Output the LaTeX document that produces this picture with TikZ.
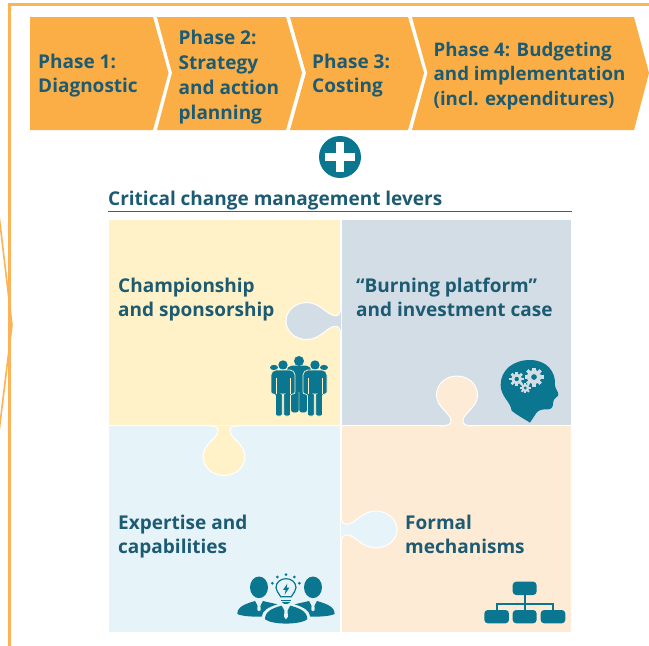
\documentclass[tikz,border=0pt]{standalone}
\usepackage{fontspec}
\setmainfont{Open Sans}
\definecolor{orangeA}{HTML}{FBAE45}
\definecolor{frameC}{HTML}{FDB355}
\definecolor{inkC}{HTML}{1D5B72}
\definecolor{tealC}{HTML}{0B7690}
\definecolor{yelC}{HTML}{FFF2C8}
\definecolor{bluC}{HTML}{D3DDE6}
\definecolor{skyC}{HTML}{E6F4FA}
\definecolor{peaC}{HTML}{FEEBD5}
\tikzset{
  x=1pt,y=-1pt,
  chev/.style={fill=orangeA,draw=none},
  lab/.style={anchor=west,inner sep=0pt,align=left,text=inkC,font=\bfseries\fontsize{19}{24.6}\selectfont},
  labwide/.style={lab,font=\bfseries\fontsize{19}{25.2}\selectfont},
  labnarrow/.style={lab,font=\bfseries\fontsize{18.7}{24.4}\selectfont},
  sep/.style={draw=white,line width=1.1pt},
  frameL/.style={draw=frameC,line width=2.2pt},
  icon/.style={fill=tealC,draw=none},
}
\newcommand{\puzzletab}[6]{%
 \begin{scope}[shift={(#1,#2)},rotate=#3,xscale=#5,yscale=#6]
  \draw[fill=#4,draw=white,line width=1pt]
   (-17,0) .. controls (-9,0) and (-5,2) .. (-6,6)
   .. controls (-7,13) and (-20.5,19) .. (-20.5,31)
   .. controls (-20.5,42) and (-11,50) .. (0,50)
   .. controls (11,50) and (20.5,42) .. (20.5,31)
   .. controls (20.5,19) and (7,13) .. (6,6)
   .. controls (5,2) and (9,0) .. (17,0);
 \end{scope}}
\newcommand{\personfig}[3]{% cx, shoulder top, outline colour
  \fill[tealC,draw=#3,line width=.7pt,rounded corners=2pt]
   (#1-12,#2+24) -- (#1-12,#2+3) -- (#1-9,#2) -- (#1+9,#2) -- (#1+12,#2+3) -- (#1+12,#2+24) -- (#1+7.5,#2+24) -- (#1+7.5,#2+46)
   -- (#1+.7,#2+46) -- (#1+.7,#2+24) -- (#1-.7,#2+24) -- (#1-.7,#2+46) -- (#1-7.5,#2+46) -- (#1-7.5,#2+24) -- cycle;
  \draw[#3,line width=.8pt] (#1-7,#2+8) -- (#1-7,#2+24) (#1+7,#2+8) -- (#1+7,#2+24);
}
\newcommand{\gearicon}[3]{%
  \foreach \a in {0,45,...,315}{\draw[bluC,line width=#3*.36pt] (#1,#2) -- ++(\a:#3*1.0pt);}
  \fill[bluC] (#1,#2) circle[radius=#3*.74pt];
  \fill[tealC] (#1,#2) circle[radius=#3*.3pt];
}
\begin{document}
\begin{tikzpicture}
\useasboundingbox (0,0) rectangle (649,646);
\fill[white] (0,0) rectangle (649,646);
\begin{scope}
\clip (0,0) rectangle (649,646);
% frame
\draw[frameL] (649,4.5) -- (9.5,4.5) -- (9.5,646);
\draw[draw=frameC,line width=1.6pt] (-1,215) -- (12,325) -- (-1,432);
% chevrons
\path[chev] (30,17) -- (153,17) -- (168.5,73) -- (153,130) -- (30,130) -- cycle;
\path[chev] (157,17) -- (286,17) -- (302,73) -- (286,130) -- (157,130) -- (172,73) -- cycle;
\path[chev] (290,17) -- (408,17) -- (424,73) -- (408,130) -- (290,130) -- (306,73) -- cycle;
\path[chev] (412,17) -- (634,17) -- (649,73) -- (634,130) -- (412,130) -- (427.5,73) -- cycle;
\node[lab] (p1) at (38,75.5) {Phase 1:\\Diagnostic};
\node[labwide] (p2) at (178.5,77) {Phase 2:\\Strategy\\and action\\planning};
\node[lab] (p3) at (312,75.5) {Phase 3:\\Costing};
\node[labnarrow] (p4) at (433.5,76) {Phase 4: Budgeting\\and implementation\\(incl. expenditures)};
% plus
\fill[tealC] (340,157) circle[radius=21];
\fill[white] (336.2,142) rectangle (343.8,172);
\fill[white] (325,153.2) rectangle (355,160.8);
% title
\node[lab,anchor=base west] (title) at (108,205) {Critical change management levers};
\draw[tealC,line width=1pt] (108,211.3) -- (572,211.3);
% quadrants
\fill[yelC] (109,220) rectangle (341,426);
\fill[bluC] (341,220) rectangle (571,426);
\fill[skyC] (109,426) rectangle (341,632);
\fill[peaC] (341,426) rectangle (571,632);
\draw[sep] (341,220) -- (341,632) (109,425.7) -- (571,425.7);
% puzzle tabs
\puzzletab{341}{321}{-90}{bluC}{0.9}{1.1}
\puzzletab{457}{426}{180}{peaC}{1}{1}
\puzzletab{224}{425.5}{0}{yelC}{1.02}{1}
\puzzletab{341}{529.5}{90}{skyC}{0.9}{1.12}
% quadrant labels
\node[lab] (q1) at (118,299.5) {Championship\\and sponsorship};
\node[lab] (q2) at (356,297.5) {“Burning platform”\\and investment case};
\node[lab] (q3) at (118,536.5) {Expertise and\\capabilities};
\node[lab] (q4) at (405,534.5) {Formal\\mechanisms};
% people icon
\fill[tealC] (299,361) circle[radius=5];
\personfig{299}{366}{tealC}
\fill[tealC] (274,367.5) ellipse[x radius=4,y radius=2.6];
\fill[tealC] (324,367.5) ellipse[x radius=4,y radius=2.6];
\fill[tealC] (283,365) circle[radius=4.7];
\fill[tealC] (315,365) circle[radius=4.7];
\personfig{283}{370}{yelC}
\personfig{315}{370}{yelC}
% head icon
\begin{scope}[shift={(260,290)},x=0.3333pt,y=-0.3333pt]
 \fill[tealC] (810,398) .. controls (790,385) and (770,375) .. (755,362)
   .. controls (752,335) and (722,320) .. (722,285)
   .. controls (722,240) and (760,210) .. (810,210)
   .. controls (860,210) and (888,245) .. (885,285)
   .. controls (885,295) and (897,308) .. (895,315)
   .. controls (893,322) and (880,325) .. (880,335)
   .. controls (880,345) and (878,358) .. (865,358)
   .. controls (850,358) and (838,358) .. (830,368) -- cycle;
\end{scope}
\gearicon{516.7}{379}{7.3}
\gearicon{534}{377}{9.5}
\gearicon{525.3}{388}{5.3}
% experts icon
\begin{scope}[shift={(190,420)},x=0.3333pt,y=-0.3333pt]
 \fill[tealC] (207,502) ellipse[x radius=9pt,y radius=10.8pt];
 \fill[tealC] (369,502) ellipse[x radius=9pt,y radius=10.8pt];
 \fill[tealC] (142,582) .. controls (142,560) and (165,552) .. (195,543) -- (207,565) -- (219,543)
   .. controls (235,547) and (250,550) .. (262,553) .. controls (235,562) and (218,570) .. (215,590)
   .. controls (190,590) and (160,590) .. (142,582) -- cycle;
 \fill[tealC] (434,582) .. controls (434,560) and (411,552) .. (381,543) -- (369,565) -- (357,543)
   .. controls (341,547) and (326,550) .. (314,553) .. controls (341,562) and (358,570) .. (361,590)
   .. controls (386,590) and (416,590) .. (434,582) -- cycle;
 \fill[tealC] (225,598) .. controls (225,575) and (245,565) .. (275,557) -- (288,580) -- (301,557)
   .. controls (331,565) and (352,575) .. (352,598)
   .. controls (330,615) and (247,615) .. (225,598) -- cycle;
 \fill[skyC] (284,568) -- (292,568) -- (294,590) -- (288,598) -- (282,590) -- cycle;
 \fill[skyC] (203,552) -- (211,552) -- (212,570) -- (207,574) -- (202,570) -- cycle;
 \fill[skyC] (365,552) -- (373,552) -- (374,570) -- (369,574) -- (364,570) -- cycle;
 \draw[tealC,line width=1.2pt,fill=skyC] (272,530) .. controls (265,518) and (258,512) .. (258,503)
   .. controls (258,487) and (272,476) .. (288,476)
   .. controls (304,476) and (318,487) .. (318,503)
   .. controls (318,512) and (311,518) .. (304,530) -- cycle;
 \fill[tealC] (272,539) -- (304,539) -- (304,544) -- (272,544) -- cycle;
 \fill[tealC] (275,546) -- (301,546) -- (293,552) -- (283,552) -- cycle;
 \fill[tealC] (292,491) -- (279,510) -- (287,510) -- (284,524) -- (298,503) -- (290,503) -- cycle;
 \foreach \dx/\dy in {288/464,262/471,313/471,247/490,328/490}
   \fill[tealC] (\dx,\dy) circle[radius=1.5pt];
\end{scope}
% org chart icon
\begin{scope}[shift={(470,560)},x=0.3333pt,y=-0.3333pt]
 \draw[tealC,line width=2pt] (164,105) -- (164,150) (80,150) -- (80,133) -- (248,133) -- (248,150);
 \fill[tealC,rounded corners=3.5pt] (128,65) rectangle (200,105);
 \fill[tealC,rounded corners=3.5pt] (43,150) rectangle (117,190);
 \fill[tealC,rounded corners=3.5pt] (128,150) rectangle (200,190);
 \fill[tealC,rounded corners=3.5pt] (212,150) rectangle (286,190);
\end{scope}
\end{scope}
\end{tikzpicture}
\end{document}
